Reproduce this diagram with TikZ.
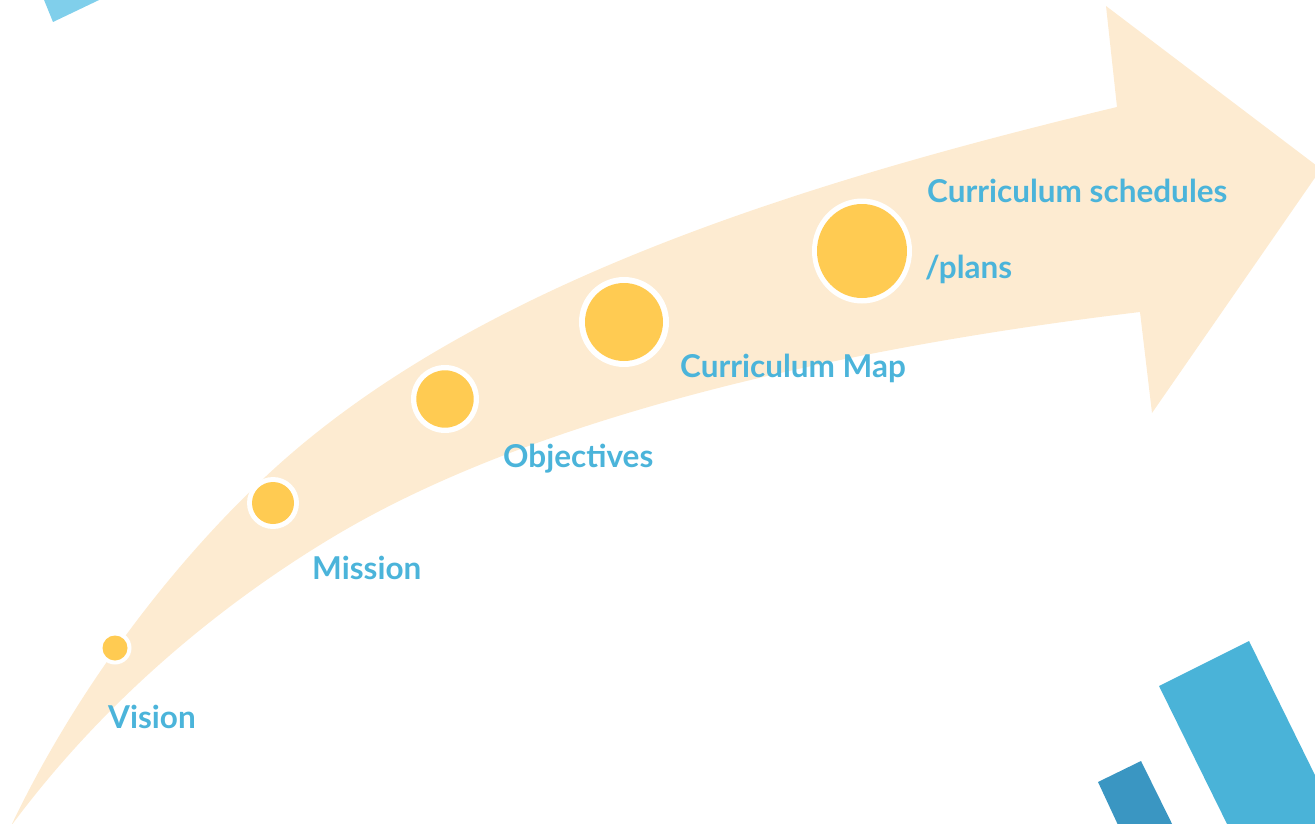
\documentclass[tikz,border=0pt]{standalone}
\usepackage{fontspec}
\setmainfont{Lato}
\definecolor{bandc}{HTML}{FDEBD1}
\definecolor{dotc}{HTML}{FFCB52}
\definecolor{txtc}{HTML}{4BB4DA}
\definecolor{barc}{HTML}{4AB3D8}
\definecolor{bardark}{HTML}{3A96C2}
\definecolor{cornerc}{HTML}{80CFEB}
\begin{document}
\begin{tikzpicture}[x=1pt,y=-1pt,
  lbl/.style={anchor=base west,inner sep=0pt,text=txtc,font=\fontsize{31.5}{36}\selectfont\bfseries},
  ring/.style={fill=white},
  dot/.style={fill=dotc}]
\useasboundingbox (0,0) rectangle (1315,824);
\clip (0,0) rectangle (1315,824);
% decorative bars
\fill[cornerc] (40,-10) -- (53,22) -- (120,-10) -- cycle;
\fill[barc] (1159,686) -- (1249,641) -- (1340,826) -- (1230,830) -- cycle;
\fill[bardark] (1098,782) -- (1141,761) -- (1180,840) -- (1125,840) -- cycle;
% curved arrow band
\fill[bandc] (11,826) .. controls (71,700) and (161,576) .. (262,480)
  .. controls (462,290) and (787,186) .. (1117,107)
  -- (1106,6) -- (1321,169) -- (1152,413) -- (1140,312)
  .. controls (840,348) and (533,417) .. (333,537)
  .. controls (233,597) and (111,691) .. (11,826) -- cycle;
% milestones
\fill[ring] (115,648) circle[radius=16.5pt];
\fill[dot] (115,648) circle[radius=12.5pt];
\fill[ring] (273,503) circle[radius=26pt];
\fill[dot] (273,503) circle[radius=21pt];
\fill[ring] (445,399) circle[radius=34pt];
\fill[dot] (445,399) circle[radius=28.7pt];
\fill[ring] (624,322) circle[radius=45pt];
\fill[dot] (624,322) circle[radius=39pt];
\fill[ring] (862,251) ellipse[x radius=50pt,y radius=52.5pt];
\fill[dot] (862,251) ellipse[x radius=45pt,y radius=47pt];
% labels
\node[lbl] (vision) at (108,728) {Vision};
\node[lbl] (mission) at (312,579) {Mission};
\node[lbl] (objectives) at (503,467) {Objectives};
\node[lbl] (map) at (680,377) {Curriculum Map};
\node[lbl] (sched) at (927,203) {Curriculum schedules};
\node[lbl] (plans) at (925,278) {/plans};
\end{tikzpicture}
\end{document}
